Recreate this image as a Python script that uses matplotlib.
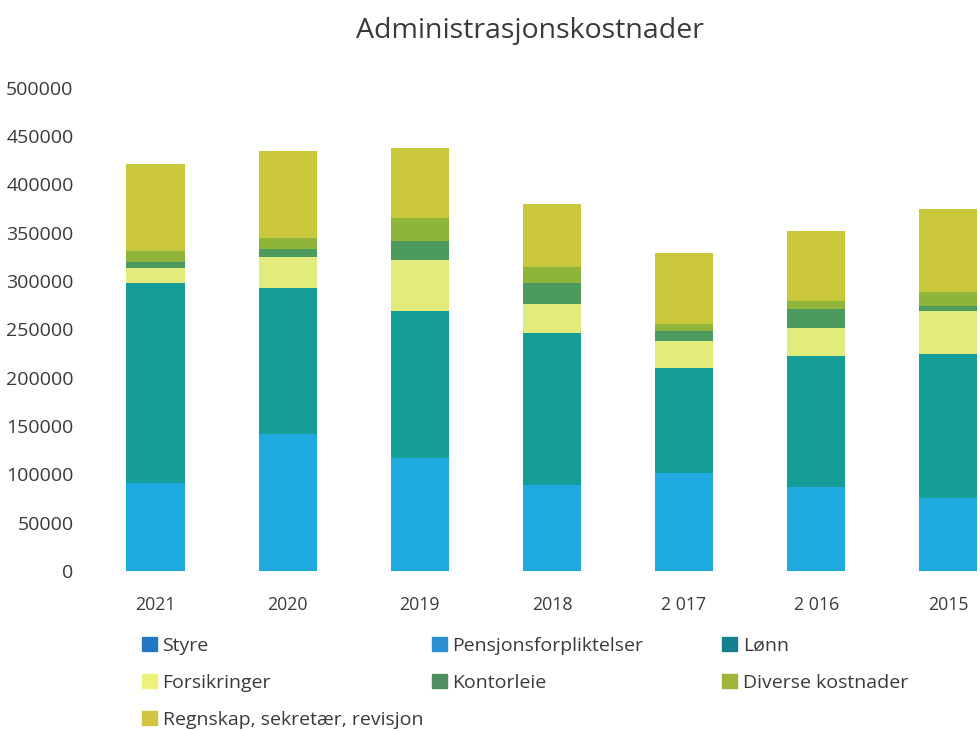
import matplotlib.pyplot as plt
import numpy as np

plt.rcParams['font.family'] = ['Open Sans', 'DejaVu Sans']

years = ["2021", "2020", "2019", "2018", "2 017", "2 016", "2015"]

styre = [91000, 142000, 117000, 89000, 101000, 87000, 75000]
pensjon = [0, 0, 0, 0, 0, 0, 0]
lonn = [207000, 151000, 152000, 157000, 109000, 135000, 149000]
forsikringer = [15000, 32000, 53000, 30000, 28000, 29000, 45000]
kontorleie = [7000, 8000, 19000, 22000, 10000, 20000, 5000]
diverse = [11000, 11000, 24000, 17000, 7000, 8000, 15000]
regnskap = [90000, 91000, 73000, 65000, 74000, 73000, 85000]

series = [
    ("Styre", styre, "#1ea9df", "#2179c3"),
    ("Pensjonsforpliktelser", pensjon, "#2a8fd2", "#2a8fd2"),
    ("Lønn", lonn, "#159d97", "#167f8e"),
    ("Forsikringer", forsikringer, "#e2ec7c", "#eef27a"),
    ("Kontorleie", kontorleie, "#4c9a5e", "#4f8f5f"),
    ("Diverse kostnader", diverse, "#8fb43a", "#9fb53a"),
    ("Regnskap, sekretær, revisjon", regnskap, "#c9c83c", "#cfc543"),
]

fig = plt.figure(figsize=(9.8, 7.31), dpi=100)
ax = fig.add_axes([100 / 980, 0.219, 880 / 980, 0.661])

x = np.arange(len(years))
bottom = np.zeros(len(years))
handles = {}
for name, vals, col, legcol in series:
    ax.bar(x, vals, 0.44, bottom=bottom, color=col, edgecolor="none")
    handles[name] = plt.Rectangle((0, 0), 1, 1, color=legcol)
    bottom += np.array(vals)

ax.set_xlim(-0.42, 6.24)
ax.set_ylim(0, 500000)
ax.set_yticks(range(0, 500001, 50000))
ax.set_yticklabels([str(v) for v in range(0, 500001, 50000)])
ax.set_xticks(x)
ax.set_xticklabels(years)
for s in ax.spines.values():
    s.set_visible(False)
ax.tick_params(length=0, colors="#3a3a3a")
ax.tick_params(axis="x", labelsize=12.8, pad=18)
ax.tick_params(axis="y", labelsize=14, pad=19)

fig.text(0.541, 0.957, "Administrasjonskostnader", ha="center", va="center",
         fontsize=20.5, color="#3a3a3a")

# legend laid out row by row like the original, one legend per column
cols = [
    (["Styre", "Forsikringer", "Regnskap, sekretær, revisjon"], 0.145),
    (["Pensjonsforpliktelser", "Kontorleie"], 0.441),
    (["Lønn", "Diverse kostnader"], 0.737),
]
for names, xpos in cols:
    fig.legend([handles[n] for n in names], names, loc="upper left",
               bbox_to_anchor=(xpos, 0.1286), frameon=False, fontsize=14,
               handlelength=0.75, handleheight=0.75, handletextpad=0.3,
               labelspacing=0.98, labelcolor="#3a3a3a", borderaxespad=0,
               borderpad=0)

fig.savefig("out.png", dpi=100, facecolor="white")
